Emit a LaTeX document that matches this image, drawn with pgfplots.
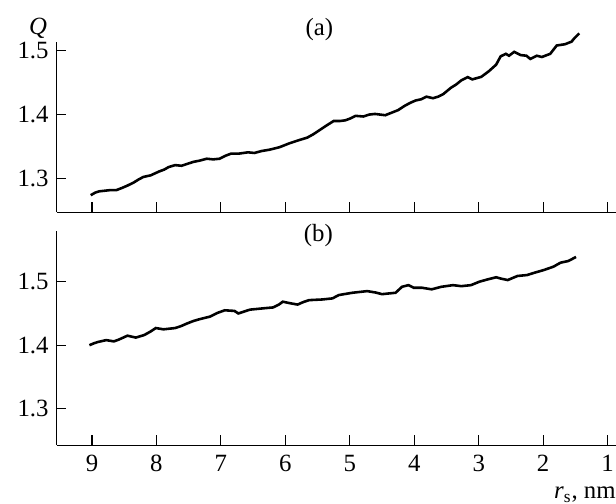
\documentclass[border=0pt]{standalone}
\usepackage{fontspec}
\setmainfont{Liberation Serif}
\usepackage{pgfplots}
\pgfplotsset{compat=1.18}
\begin{document}
\pgfplotsset{qaxis/.style={
  scale only axis, width=282pt, anchor=south west,
  x dir=reverse, xmin=0.87, xmax=9.55,
  axis x line=bottom, axis y line=left,
  axis line style={-, line width=0.6pt},
  tick align=inside, major tick length=5pt,
  tick style={line width=0.6pt, black},
  xtick={1,...,9}, ytick={1.3,1.4,1.5},
  tick label style={font=\fontsize{12.5}{14}\selectfont},
  /pgf/number format/assume math mode=true,
  yticklabel style={/pgf/number format/fixed, /pgf/number format/precision=1,
    /pgf/number format/fixed zerofill, xshift=-0.5pt},
  xticklabel style={yshift=-1.5pt},
  clip=false}}
\begin{tikzpicture}
% (a)
\begin{axis}[qaxis, at={(26pt,147pt)}, height=86pt,
  ymin=1.2473, ymax=1.514, xticklabels={}]
\addplot[black, line width=1.3pt] coordinates {
 (9.02,1.274)(8.95,1.278)(8.89,1.280)(8.80,1.281)(8.71,1.282)(8.62,1.282)
 (8.53,1.2855)(8.45,1.289)(8.35,1.294)(8.27,1.299)(8.20,1.3026)(8.09,1.305)
 (7.96,1.311)(7.88,1.314)(7.81,1.318)(7.71,1.321)(7.61,1.320)(7.52,1.323)
 (7.43,1.326)(7.33,1.328)(7.22,1.331)(7.12,1.330)(7.02,1.331)(6.92,1.336)
 (6.84,1.339)(6.72,1.339)(6.58,1.341)(6.48,1.340)(6.37,1.343)(6.25,1.345)
 (6.09,1.349)(5.94,1.355)(5.79,1.360)(5.66,1.364)(5.57,1.369)(5.48,1.375)
 (5.36,1.383)(5.25,1.390)(5.15,1.390)(5.07,1.391)(4.99,1.394)(4.91,1.398)
 (4.79,1.397)(4.70,1.400)(4.61,1.401)(4.45,1.399)(4.35,1.403)(4.25,1.407)
 (4.16,1.413)(4.07,1.418)(3.98,1.422)(3.89,1.424)(3.81,1.428)(3.71,1.4256)
 (3.63,1.428)(3.55,1.432)(3.43,1.442)(3.35,1.447)(3.27,1.4535)(3.17,1.4586)
 (3.10,1.455)(2.96,1.459)(2.84,1.468)(2.73,1.478)(2.66,1.491)(2.58,1.495)
 (2.53,1.492)(2.45,1.498)(2.35,1.493)(2.26,1.492)(2.20,1.487)(2.10,1.492)
 (2.02,1.490)(1.89,1.495)(1.79,1.508)(1.66,1.510)(1.56,1.514)(1.51,1.520)
 (1.44,1.527)};
\end{axis}
% (b)
\begin{axis}[qaxis, at={(26pt,29.5pt)}, height=108pt,
  ymin=1.2422, ymax=1.5797]
\addplot[black, line width=1.3pt] coordinates {
 (9.04,1.400)(8.97,1.403)(8.91,1.405)(8.78,1.408)(8.66,1.406)(8.58,1.409)
 (8.45,1.415)(8.32,1.412)(8.19,1.416)(8.10,1.421)(8.01,1.427)(7.89,1.425)
 (7.71,1.427)(7.62,1.430)(7.53,1.434)(7.43,1.438)(7.33,1.441)(7.17,1.445)
 (7.05,1.451)(6.94,1.455)(6.79,1.454)(6.73,1.450)(6.55,1.456)(6.35,1.458)
 (6.19,1.4595)(6.10,1.464)(6.04,1.4685)(5.92,1.466)(5.81,1.464)(5.72,1.468)
 (5.63,1.471)(5.43,1.472)(5.27,1.4737)(5.17,1.479)(4.96,1.4826)(4.73,1.4852)
 (4.60,1.483)(4.50,1.4804)(4.29,1.4826)(4.19,1.492)(4.09,1.4946)(4.01,1.4905)
 (3.88,1.4905)(3.73,1.488)(3.58,1.492)(3.40,1.4946)(3.27,1.493)(3.12,1.4946)
 (2.99,1.500)(2.86,1.5037)(2.73,1.507)(2.66,1.505)(2.55,1.5026)(2.40,1.509)
 (2.25,1.5105)(2.14,1.514)(1.99,1.5184)(1.84,1.5237)(1.73,1.530)(1.61,1.5326)
 (1.49,1.539)};
\end{axis}
\begin{scope}[every node/.style={font=\fontsize{12.5}{14}\selectfont, inner sep=0pt}]
\node[anchor=base] at (16.75pt,236.5pt) {\textit{Q}};
\node[anchor=base] at (158.5pt,236pt) {(a)};
\node[anchor=base] at (158pt,132.5pt) {(b)};
\node[anchor=base east] at (308pt,2.5pt) {\textit{r}\textsubscript{s}, nm};
\end{scope}
\pgfresetboundingbox
\useasboundingbox (0,0) rectangle (308pt,254pt);
\end{tikzpicture}
\end{document}
